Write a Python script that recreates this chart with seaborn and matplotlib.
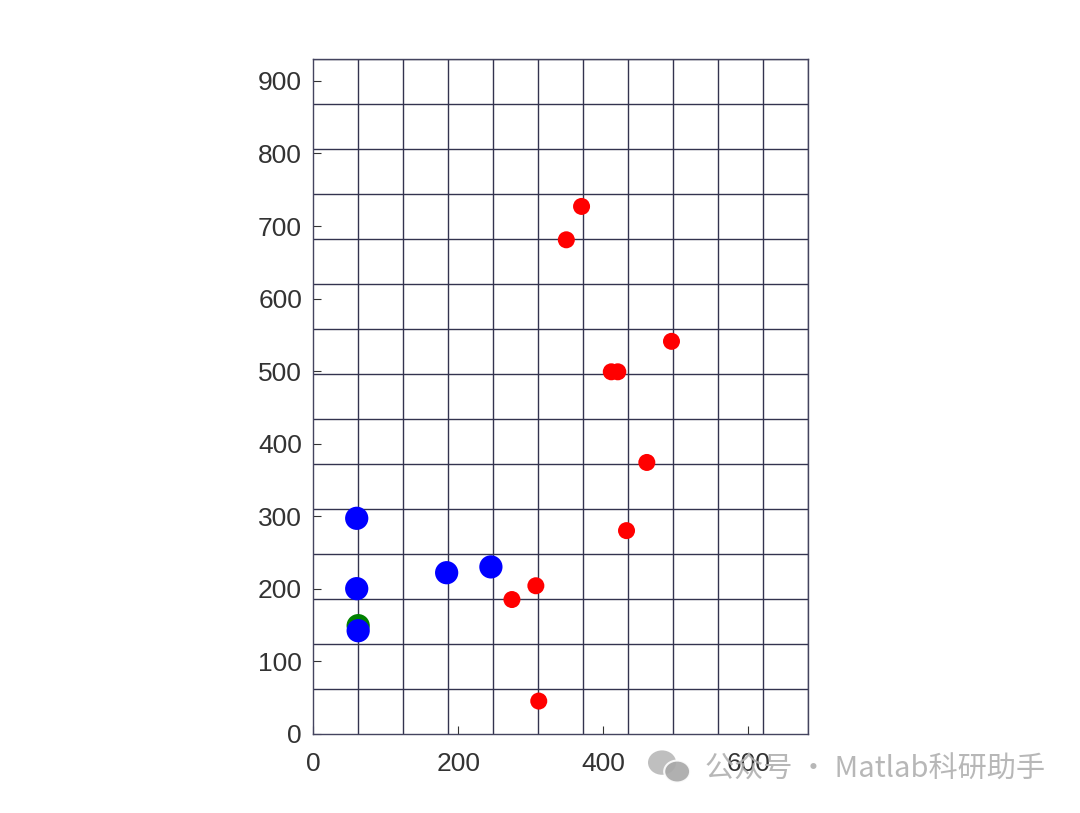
import numpy as np
import pandas as pd
import matplotlib
matplotlib.use('Agg')
import matplotlib.pyplot as plt
from matplotlib.patches import Ellipse
import seaborn as sns

# 点的坐标
red_x = [370, 349, 494, 411, 420, 460, 432, 307, 274, 311]
red_y = [727, 681, 541, 499, 499, 374, 280, 204, 185, 45]

green_x = [62]
green_y = [149]

blue_x = [60, 60, 62, 184, 245]
blue_y = [297, 200, 142, 222, 230]

# 网格
cell = 62
n_cols, n_rows = 11, 15

x_ticks = [0, 200, 400, 600]
y_ticks = [0, 100, 200, 300, 400, 500, 600, 700, 800, 900]

sns.set_style('white')
plt.rcParams['font.family'] = ['Liberation Sans', 'Noto Sans CJK SC', 'DejaVu Sans']

fig = plt.figure(figsize=(10.8, 8.13), dpi=100)
ax = fig.add_axes([0.29, 0.096, 0.458, 0.8327])

red_df = pd.DataFrame({'x': red_x, 'y': red_y})
green_df = pd.DataFrame({'x': green_x, 'y': green_y})
blue_df = pd.DataFrame({'x': blue_x, 'y': blue_y})

sns.scatterplot(data=red_df, x='x', y='y', ax=ax, color='#ff0000', s=150,
                edgecolor='none', zorder=3)
sns.scatterplot(data=green_df, x='x', y='y', ax=ax, color='#008000', s=280,
                edgecolor='none', zorder=3)
sns.scatterplot(data=blue_df, x='x', y='y', ax=ax, color='#0000ff', s=280,
                edgecolor='none', zorder=4)

ax.set_xlim(0, cell * n_cols)
ax.set_ylim(0, cell * n_rows)
ax.set_aspect('equal')

ax.set_xticks(x_ticks)
ax.set_yticks(y_ticks)
ax.set_xticks(np.arange(0, cell * n_cols + 1, cell), minor=True)
ax.set_yticks(np.arange(0, cell * n_rows + 1, cell), minor=True)
ax.grid(which='minor', color='#33334f', linewidth=1.0)
ax.grid(which='major', visible=False)
ax.set_axisbelow(True)
ax.tick_params(which='minor', length=0)
ax.tick_params(which='major', direction='in', length=6, width=0.8,
               color='#333333', labelsize=19, labelcolor='#333333',
               left=True, bottom=True, top=False, right=False)
ax.tick_params(axis='x', pad=13)
ax.tick_params(axis='y', pad=8)
ax.set_xlabel('')
ax.set_ylabel('')

for sp in ax.spines.values():
    sp.set_color('#44445f')
    sp.set_linewidth(1.0)

# 水印
fig.patches.append(Ellipse((0.613, 0.062), 0.026, 0.030, transform=fig.transFigure,
                           facecolor='#b8b8b8', edgecolor='none', alpha=0.9))
fig.patches.append(Ellipse((0.627, 0.051), 0.024, 0.027, transform=fig.transFigure,
                           facecolor='#a8a8a8', edgecolor='white', linewidth=1.5, alpha=0.9))
fig.text(0.968, 0.053, '公众号 · Matlab科研助手', ha='right', va='center',
         fontsize=21, color='#b0b0b0', alpha=0.9,
         family=['Noto Sans CJK SC', 'DejaVu Sans'])

fig.savefig('out.png', dpi=100)
